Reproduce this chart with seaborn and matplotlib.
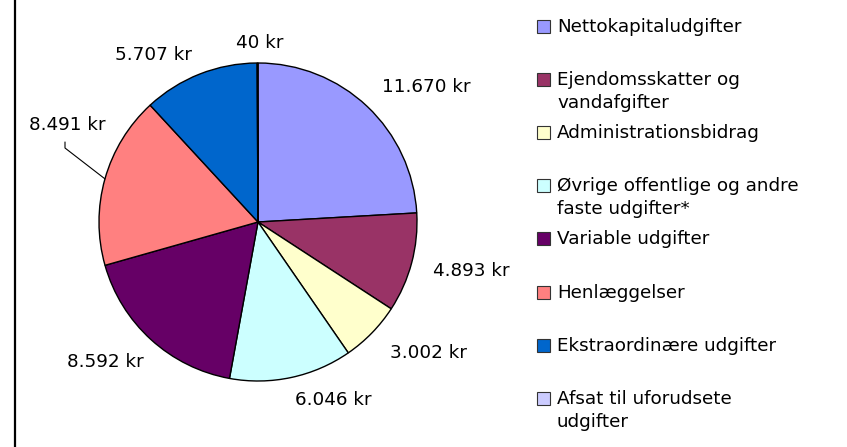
import numpy as np
import matplotlib
matplotlib.use("Agg")
import matplotlib.pyplot as plt
import seaborn as sns
from matplotlib.patches import Rectangle
from matplotlib.lines import Line2D

# Data
categories = [
    "Nettokapitaludgifter",
    "Ejendomsskatter og\nvandafgifter",
    "Administrationsbidrag",
    "Øvrige offentlige og andre\nfaste udgifter*",
    "Variable udgifter",
    "Henlæggelser",
    "Ekstraordinære udgifter",
    "Afsat til uforudsete\nudgifter",
]
values = [11670, 4893, 3002, 6046, 8592, 8491, 5707, 40]
colors_hex = ["#9999FF", "#993366", "#FFFFCC", "#CCFFFF",
              "#660066", "#FF8080", "#0066CC", "#CCCCFF"]

# Label positions (pie radius units, pie centre = 0,0)
label_pos = [(1.057, 0.849), (1.340, -0.308), (1.075, -0.824), (0.472, -1.119),
             (-0.962, -0.881), (-1.201, 0.610), (-0.660, 1.050), (0.013, 1.126)]

# Style
sns.set_theme(style="white")
plt.rcParams['font.family'] = ['DejaVu Sans']
FS = 13.2

W, H = 847, 447
CX, CY, R = 258, 222, 159  # pie centre / radius in pixels

fig = plt.figure(figsize=(W / 100, H / 100), dpi=100)
ax = fig.add_axes([0, 0, 1, 1])

palette = sns.color_palette(colors_hex)
wedges, _ = ax.pie(values, colors=palette, startangle=90, counterclock=False,
                   wedgeprops=dict(edgecolor="black", linewidth=1.0))

ax.set_xlim(-CX / R, (W - CX) / R)
ax.set_ylim(-(H - CY) / R, CY / R)
ax.set_aspect('equal')
ax.axis('off')

# Value labels
for v, (lx, ly) in zip(values, label_pos):
    txt = f"{v:,} kr".replace(",", ".")
    ax.text(lx, ly, txt, ha="center", va="center", fontsize=FS, color="black")

# Leader line for Henlæggelser
w = wedges[5]
mid = np.deg2rad((w.theta1 + w.theta2) / 2)
ex, ey = np.cos(mid), np.sin(mid)
sx, sy = (65 - CX) / R, (CY - 142) / R
bx, by = sx, (CY - 148) / R
ax.plot([sx, bx, ex], [sy, by, ey], color="black", lw=0.8)

# Legend (drawn by hand to keep Excel-like uniform spacing)
def fx(px):
    return px / W

def fy(py):
    return 1 - py / H

base0, step, line_h = 32, 53.1, 23
for i, (lab, c) in enumerate(zip(categories, palette)):
    base = base0 + i * step
    n_lines = lab.count("\n") + 1
    fig.add_artist(Rectangle((fx(537), fy(base + 1)), 13 / W, 13 / H,
                             transform=fig.transFigure, facecolor=c,
                             edgecolor="#333333", lw=0.8))
    # matplotlib puts the last line on the baseline, so push it down
    fig.text(fx(557), fy(base + (n_lines - 1) * line_h), lab, ha="left",
             va="baseline", fontsize=FS, color="black", linespacing=1.37)

# Left border line
fig.add_artist(Line2D([fx(15), fx(15)], [0, 1], transform=fig.transFigure,
                      color="black", lw=1.6))

fig.savefig("out.png", dpi=100)
